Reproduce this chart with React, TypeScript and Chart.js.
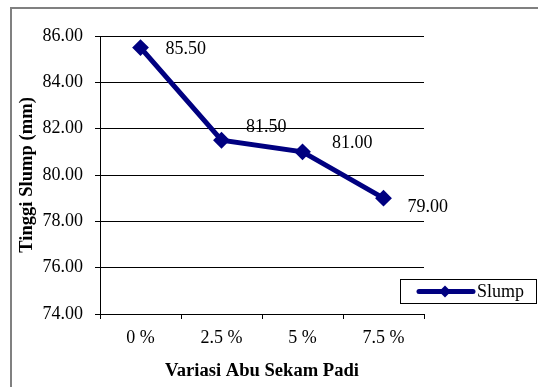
import React, { useEffect, useRef } from "react";
import { Chart, registerables } from "chart.js";

Chart.register(...registerables);

const categories = ["0 %", "2.5 %", "5 %", "7.5 %"];
const slumpValues = [85.5, 81.5, 81.0, 79.0];
const seriesName = "Slump";
const yTitle = "Tinggi Slump (mm)";
const xTitle = "Variasi Abu Sekam Padi";
const yMin = 74;
const yMax = 86;
const yStep = 2;
// label offsets (dx from point, dy of label centre from point)
const labelDx = [25, 24.5, 29.5, 24];
const labelDy = [1.5, -13, -8.5, 9];

const FONT = "'Liberation Serif', 'Times New Roman', serif";
const NAVY = "#000080";

const framePlugin = {
  id: "frame",
  beforeDraw(chart: any) {
    const ctx = chart.ctx;
    ctx.save();
    ctx.fillStyle = "#ffffff";
    ctx.fillRect(0, 0, chart.width, chart.height);
    ctx.strokeStyle = "#808080";
    ctx.lineWidth = 2;
    ctx.strokeRect(11, 8, chart.width + 50, chart.height + 50);
    ctx.restore();
  },
};

const labelPlugin = {
  id: "valueLabels",
  afterDatasetsDraw(chart: any) {
    const ctx = chart.ctx;
    const meta = chart.getDatasetMeta(0);
    const data = chart.data.datasets[0].data as number[];
    ctx.save();
    ctx.font = `18px ${FONT}`;
    ctx.fillStyle = "#000000";
    ctx.textAlign = "left";
    ctx.textBaseline = "middle";
    meta.data.forEach((pt: any, i: number) => {
      ctx.fillText(data[i].toFixed(2), pt.x + labelDx[i], pt.y + labelDy[i]);
    });
    ctx.restore();
  },
};

const legendPlugin = {
  id: "customLegend",
  afterDraw(chart: any) {
    const ctx = chart.ctx;
    const area = chart.chartArea;
    const bx = area.right - 24;
    const by = 279;
    const bw = 136;
    const bh = 24;
    ctx.save();
    ctx.fillStyle = "#ffffff";
    ctx.fillRect(bx, by, bw, bh);
    ctx.strokeStyle = "#000000";
    ctx.lineWidth = 1;
    ctx.strokeRect(bx + 0.5, by + 0.5, bw, bh);
    const cy = by + bh / 2 + 0.5;
    ctx.strokeStyle = NAVY;
    ctx.lineWidth = 5;
    ctx.lineCap = "round";
    ctx.beginPath();
    ctx.moveTo(bx + 19, cy);
    ctx.lineTo(bx + 73, cy);
    ctx.stroke();
    ctx.fillStyle = NAVY;
    ctx.beginPath();
    const r = 6;
    const mx = bx + 45;
    ctx.moveTo(mx - r, cy);
    ctx.lineTo(mx, cy - r);
    ctx.lineTo(mx + r, cy);
    ctx.lineTo(mx, cy + r);
    ctx.closePath();
    ctx.fill();
    ctx.fillStyle = "#000000";
    ctx.font = `18px ${FONT}`;
    ctx.textAlign = "left";
    ctx.textBaseline = "middle";
    ctx.fillText(seriesName, bx + 77, cy + 1);
    ctx.restore();
  },
};

export default function App() {
  const canvasRef = useRef<HTMLCanvasElement | null>(null);

  useEffect(() => {
    if (!canvasRef.current) return;
    const chart = new Chart(canvasRef.current, {
      type: "line",
      data: {
        labels: categories,
        datasets: [
          {
            label: seriesName,
            data: slumpValues,
            borderColor: NAVY,
            backgroundColor: NAVY,
            borderWidth: 5,
            pointStyle: "rectRot",
            pointRadius: 7,
            pointBorderWidth: 2,
            pointBackgroundColor: NAVY,
            pointBorderColor: NAVY,
            tension: 0,
            fill: false,
          },
        ],
      },
      plugins: [framePlugin, labelPlugin, legendPlugin],
      options: {
        animation: false,
        responsive: false,
        maintainAspectRatio: false,
        devicePixelRatio: 1,
        layout: { padding: { top: 36, right: 114, bottom: 0, left: 0 } },
        plugins: {
          legend: { display: false },
          tooltip: { enabled: false },
          title: { display: false },
        },
        scales: {
          x: {
            type: "category",
            offset: true,
            afterFit: (scale: any) => {
              scale.height = 73;
            },
            grid: {
              offset: true,
              drawOnChartArea: false,
              drawTicks: true,
              tickLength: 5,
              color: "#000000",
            },
            border: { display: true, color: "#000000", width: 1 },
            ticks: {
              color: "#000000",
              font: { family: FONT, size: 18 },
              padding: 8,
              maxRotation: 0,
            },
            title: {
              display: true,
              text: xTitle,
              color: "#000000",
              font: { family: FONT, size: 18.6, weight: "bold" },
              padding: { top: 0, bottom: 5 },
            },
          },
          y: {
            min: yMin,
            max: yMax,
            afterFit: (scale: any) => {
              scale.width = 100;
            },
            grid: {
              color: "#000000",
              drawTicks: true,
              tickLength: 5,
              lineWidth: 1,
            },
            border: { display: true, color: "#000000", width: 1 },
            ticks: {
              stepSize: yStep,
              color: "#000000",
              font: { family: FONT, size: 18 },
              padding: 12,
              callback: (v: any) => Number(v).toFixed(2),
            },
            title: {
              display: true,
              text: yTitle,
              color: "#000000",
              font: { family: FONT, size: 18.6, weight: "bold" },
              padding: { top: 16, bottom: 0 },
            },
          },
        },
      },
    } as any);
    return () => chart.destroy();
  }, []);

  return (
    <div style={{ position: "fixed", left: 0, top: 0, width: 538, height: 387 }}>
      <canvas ref={canvasRef} width={538} height={387} style={{ display: "block" }} />
    </div>
  );
}
